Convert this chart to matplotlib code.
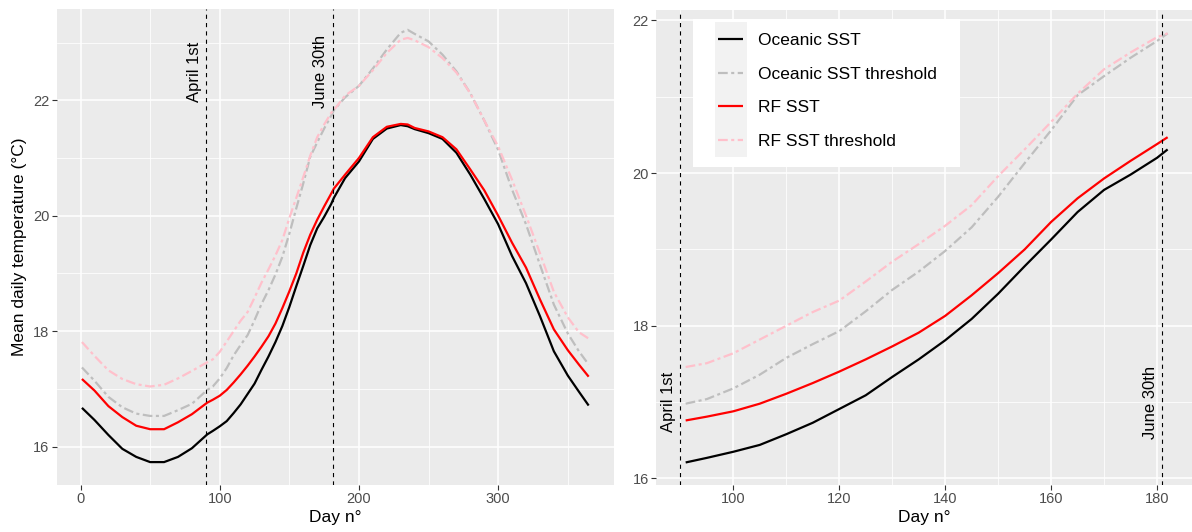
import matplotlib
matplotlib.use("Agg")
import matplotlib.pyplot as plt
from matplotlib.legend_handler import HandlerLine2D
from matplotlib.patches import Rectangle

plt.rcParams["font.family"] = ["Liberation Sans", "DejaVu Sans"]
plt.rcParams["lines.scale_dashes"] = False

# ---------------- data ----------------
DAYS = [1, 10, 20, 30, 40, 50, 60, 70, 80,
        91, 95, 100, 105, 110, 115, 120, 125, 130, 135, 140, 145, 150, 155,
        160, 165, 170, 175, 180,
        182, 190, 200, 210, 220, 230, 235, 240, 250, 260, 270, 280, 290,
        300, 310, 320, 330, 340, 350, 358, 365]

OCEANIC_SST = [16.67, 16.46, 16.20, 15.96, 15.82, 15.73, 15.73, 15.82, 15.97,
               16.21, 16.27, 16.35, 16.44, 16.58, 16.73, 16.91, 17.09, 17.33, 17.56, 17.81, 18.09, 18.42, 18.78,
               19.13, 19.49, 19.78, 19.98, 20.20,
               20.31, 20.65, 20.94, 21.33, 21.51, 21.57, 21.55, 21.50, 21.43, 21.33, 21.09, 20.71, 20.29,
               19.85, 19.30, 18.83, 18.26, 17.65, 17.23, 16.95, 16.71]

OCEANIC_SST_THR = [17.37, 17.14, 16.86, 16.68, 16.57, 16.53, 16.53, 16.63, 16.74,
                   16.98, 17.04, 17.18, 17.36, 17.58, 17.76, 17.93, 18.19, 18.47, 18.71, 18.98, 19.29, 19.69, 20.13,
                   20.56, 21.02, 21.27, 21.51, 21.73,
                   21.83, 22.05, 22.25, 22.55, 22.88, 23.17, 23.22, 23.15, 23.02, 22.79, 22.50, 22.12, 21.65,
                   21.14, 20.45, 19.85, 19.15, 18.46, 17.96, 17.65, 17.42]

RF_SST = [17.17, 16.97, 16.70, 16.51, 16.36, 16.30, 16.30, 16.42, 16.56,
          16.76, 16.81, 16.88, 16.98, 17.11, 17.25, 17.40, 17.56, 17.73, 17.91, 18.13, 18.40, 18.69, 19.00,
          19.36, 19.67, 19.93, 20.16, 20.38,
          20.47, 20.71, 21.00, 21.36, 21.54, 21.59, 21.58, 21.52, 21.46, 21.36, 21.15, 20.80, 20.44,
          20.00, 19.53, 19.10, 18.55, 18.03, 17.67, 17.42, 17.21]

RF_SST_THR = [17.81, 17.57, 17.32, 17.17, 17.08, 17.04, 17.07, 17.18, 17.31,
              17.46, 17.51, 17.64, 17.82, 18.00, 18.18, 18.33, 18.58, 18.84, 19.07, 19.31, 19.58, 19.96, 20.31,
              20.67, 21.04, 21.36, 21.58, 21.78,
              21.83, 22.08, 22.25, 22.52, 22.82, 23.05, 23.08, 23.04, 22.92, 22.73, 22.48, 22.12, 21.65,
              21.20, 20.62, 20.00, 19.35, 18.68, 18.24, 17.98, 17.87]

SERIES_LABELS = ["Oceanic SST", "Oceanic SST threshold", "RF SST", "RF SST threshold"]
MARKER_DAYS = [90, 181]
MARKER_LABELS = ["April 1st", "June 30th"]
ZOOM_RANGE = (91, 182)

# ---------------- styles ----------------
COLORS = ["black", "#BEBEBE", "#FF0000", "#FFC0CB"]
DASH = (0, (7.0, 2.5, 2.2, 2.5))
STYLES = ["-", DASH, "-", DASH]
SERIES = [OCEANIC_SST, OCEANIC_SST_THR, RF_SST, RF_SST_THR]

PANEL_BG = "#EBEBEB"
TICK_COLOR = "#4D4D4D"

W, H = 1192, 532
fig = plt.figure(figsize=(W / 100, H / 100), dpi=100)
ax1 = fig.add_axes([56.6 / W, 1 - 484.6 / H, (614 - 56.6) / W, (484.6 - 8.5) / H])
R_L, R_T, R_B = 656, 10, 484.6
ax2 = fig.add_axes([R_L / W, 1 - R_B / H, (W - R_L) / W, (R_B - R_T) / H])


def style_axes(ax, xmaj, xmin, ymaj, ymin, xlim, ylim):
    ax.set_facecolor(PANEL_BG)
    for s in ax.spines.values():
        s.set_visible(False)
    ax.set_xlim(*xlim)
    ax.set_ylim(*ylim)
    ax.set_xticks(xmaj)
    ax.set_xticks(xmin, minor=True)
    ax.set_yticks(ymaj)
    ax.set_yticks(ymin, minor=True)
    ax.grid(which="major", color="white", linewidth=1.1)
    ax.grid(which="minor", color="white", linewidth=0.55)
    ax.set_axisbelow(True)
    ax.tick_params(which="major", length=3.3, width=0.8, color="#333333",
                   labelsize=10.5, labelcolor=TICK_COLOR, pad=2)
    ax.tick_params(which="minor", length=0)
    ax.set_xlabel("Day n°", fontsize=12.5, labelpad=3)


def draw(ax, days, series, label_y):
    lines = []
    for vals, c, ls, lab in zip(series, COLORS, STYLES, SERIES_LABELS):
        ln, = ax.plot(days, vals, color=c, linestyle=ls, linewidth=1.6, label=lab,
                      solid_capstyle="butt", dash_capstyle="butt")
        lines.append(ln)
    for d, txt in zip(MARKER_DAYS, MARKER_LABELS):
        ax.axvline(d, color="black", linewidth=0.8, linestyle=(0, (3, 3)), zorder=5)
        ax.annotate(txt, xy=(d, label_y), xytext=(-3, 0), textcoords="offset points",
                    rotation=90, ha="right", va="center", fontsize=12, color="black",
                    zorder=6)
    return lines


# left panel: whole year
lines = draw(ax1, DAYS, SERIES, 22.5)
style_axes(ax1, [0, 100, 200, 300], [50, 150, 250, 350],
           [16, 18, 20, 22], [17, 19, 21, 23], (-17.2, 383.2), (15.34, 23.59))
ax1.set_ylabel("Mean daily temperature (°C)", fontsize=12.5, labelpad=4)

# right panel: April-June
sel = [i for i, d in enumerate(DAYS) if ZOOM_RANGE[0] <= d <= ZOOM_RANGE[1]]
days_z = [DAYS[i] for i in sel]
series_z = [[s[i] for i in sel] for s in SERIES]
draw(ax2, days_z, series_z, 17.0)
style_axes(ax2, [100, 120, 140, 160, 180], [90, 110, 130, 150, 170],
           [16, 18, 20, 22], [17, 19, 21], (85.4, 186.6), (15.92, 22.136))


def fx(px):
    return (px - R_L) / (W - R_L)


def fy(py):
    return 1 - (py - R_T) / (R_B - R_T)


class KeyHandler(HandlerLine2D):
    def create_artists(self, legend, orig_handle, xdescent, ydescent, width, height,
                       fontsize, trans):
        arts = super().create_artists(legend, orig_handle, xdescent, ydescent, width,
                                      height, fontsize, trans)
        padx = 2.5
        half = 12.3
        cy = -ydescent + height / 2
        bg = Rectangle((-xdescent - padx, cy - half), width + 2 * padx, 2 * half,
                       facecolor="#F2F2F2", edgecolor="none", transform=trans)
        return [bg] + list(arts)


# legend background box (ggplot legend.background)
ax2.add_patch(Rectangle((fx(692.5), fy(167)), fx(960) - fx(692.5), fy(18.7) - fy(167),
                        transform=ax2.transAxes, facecolor="white", edgecolor="none",
                        zorder=9))

leg = ax2.legend(handles=lines, labels=SERIES_LABELS, loc="upper left",
                 bbox_to_anchor=(fx(718), fy(33.0)),
                 borderaxespad=0, frameon=False, fontsize=12.5,
                 handlelength=1.45, handletextpad=0.85, labelspacing=1.06,
                 borderpad=0, handler_map={plt.Line2D: KeyHandler()})
leg.set_zorder(10)
for h in leg.legend_handles:
    h.set_linewidth(1.8)
    h.set_linestyle("-")

fig.savefig("out.png", dpi=100)
